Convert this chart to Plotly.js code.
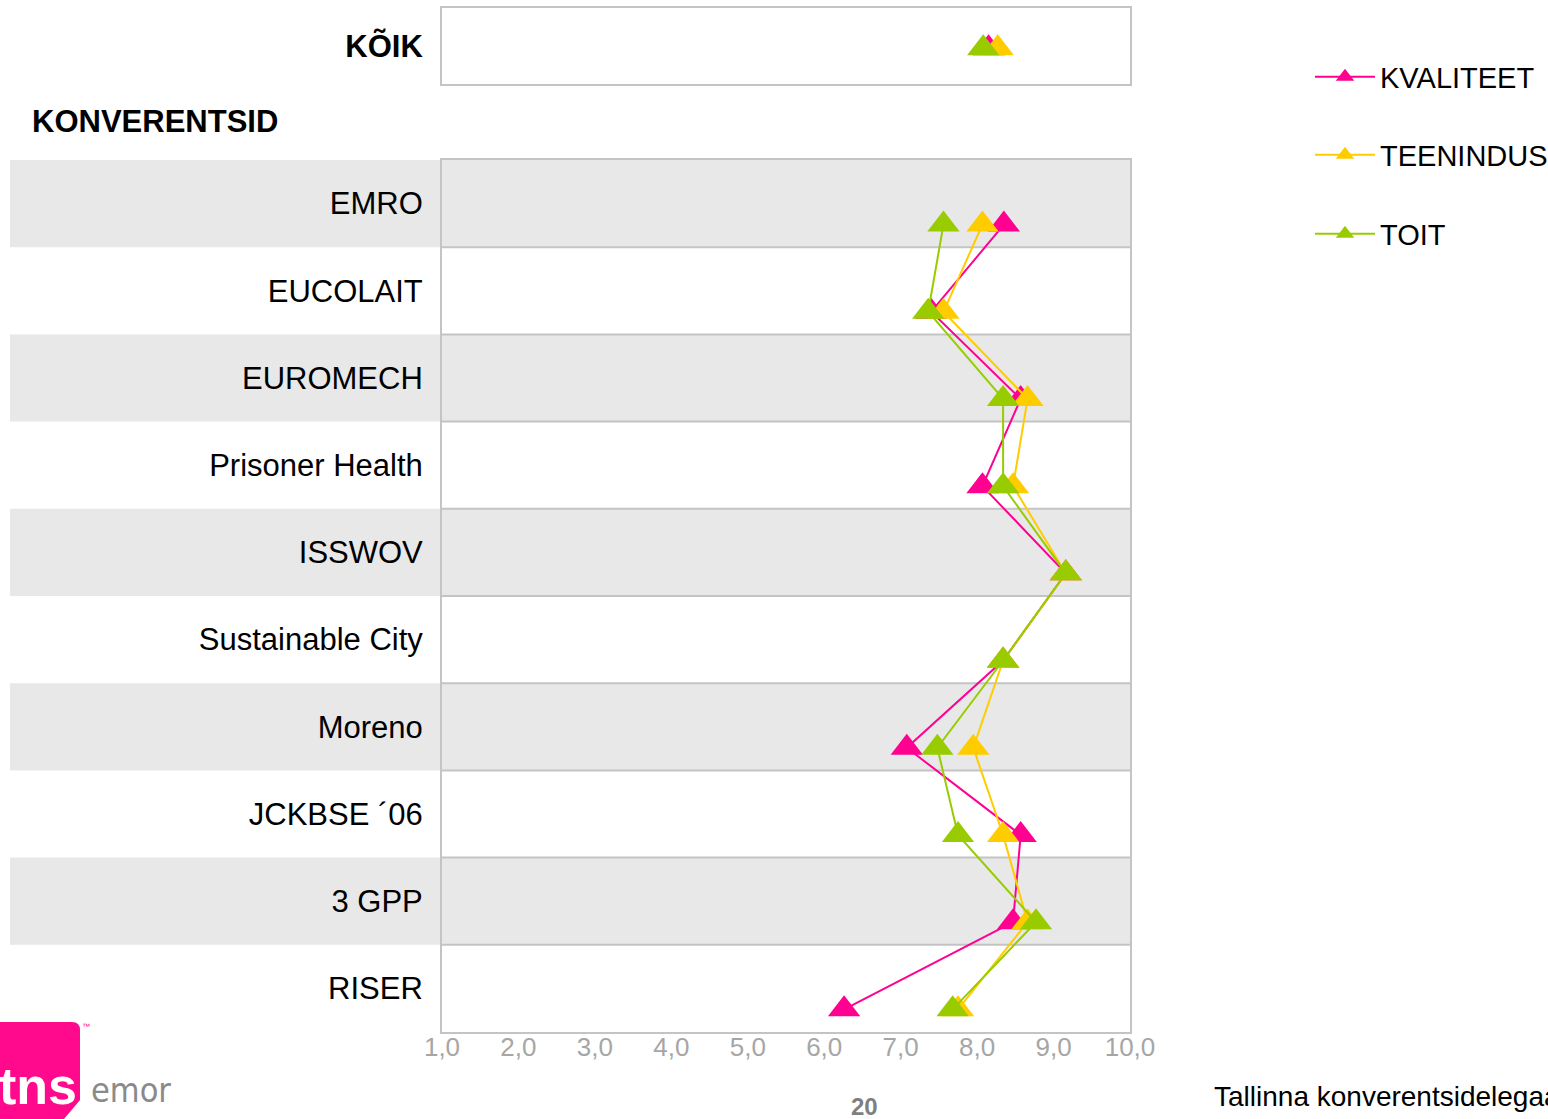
<!DOCTYPE html>
<html>
<head>
<meta charset="utf-8">
<script src="https://cdn.plot.ly/plotly-3.0.1.min.js"></script>
<style>
  html, body { margin: 0; padding: 0; background: #ffffff; overflow: hidden; width: 1548px; height: 1119px; }
  #chart { width: 1548px; height: 1119px; overflow: hidden; }
</style>
</head>
<body>
<div id="chart"></div>
<script>
// ---- data ----
const categories = ['EMRO', 'EUCOLAIT', 'EUROMECH', 'Prisoner Health', 'ISSWOV',
  'Sustainable City', 'Moreno', 'JCKBSE \u00B406', '3 GPP', 'RISER'];
const seriesNames = ['KVALITEET', 'TEENINDUS', 'TOIT'];
const kvaliteet = [8.35, 7.40, 8.57, 8.07, 9.16, 8.34, 7.08, 8.57, 8.47, 6.26];
const teenindus = [8.07, 7.56, 8.66, 8.47, 9.16, 8.34, 7.95, 8.34, 8.66, 7.75];
const toit      = [7.56, 7.36, 8.34, 8.34, 9.16, 8.34, 7.48, 7.75, 8.77, 7.68];
const totalLabel = 'K\u00D5IK';
const totalValues = [8.15, 8.27, 8.08]; // KVALITEET, TEENINDUS, TOIT
const xTickValues = [1, 2, 3, 4, 5, 6, 7, 8, 9, 10];
const groupTitle = 'KONVERENTSID';

// ---- styles ----
const colors = ['#ff0090', '#ffcc00', '#99cc00'];
const FONT = 'Liberation Sans, Arial, sans-serif';
const W = 1548, H = 1119;
const px = v => v / W, py = v => 1 - v / H;
const MAIN_SHIFT = 0.24, TOP_SHIFT = 0.03;
const seriesValues = [kvaliteet, teenindus, toit];
const idx = categories.map((c, i) => i);

const traces = [];
seriesValues.forEach((vals, s) => {
  traces.push({
    type: 'scatter', mode: 'lines+markers', name: seriesNames[s],
    x: vals, y: idx.map(i => i + MAIN_SHIFT),
    xaxis: 'x', yaxis: 'y',
    line: { color: colors[s], width: 2 },
    marker: { symbol: 'triangle-up', size: 28, color: colors[s] },
    legend: s === 0 ? 'legend' : ('legend' + (s + 1)),
    hoverinfo: 'x+name'
  });
});
seriesValues.forEach((vals, s) => {
  traces.push({
    type: 'scatter', mode: 'markers', name: seriesNames[s],
    x: [totalValues[s]], y: [TOP_SHIFT],
    xaxis: 'x2', yaxis: 'y2', showlegend: false,
    marker: { symbol: 'triangle-up', size: 28, color: colors[s] },
    hoverinfo: 'x+name'
  });
});

const shapes = [];
idx.forEach(i => {
  if (i % 2 === 0) {
    shapes.push({ type: 'rect', layer: 'below', xref: 'paper', yref: 'y',
      x0: px(10), x1: px(1130), y0: i - 0.5, y1: i + 0.5,
      fillcolor: '#e8e8e8', line: { width: 0 } });
  }
  if (i > 0) {
    shapes.push({ type: 'line', layer: 'below', xref: 'x domain', yref: 'y',
      x0: 0, x1: 1, y0: i - 0.5, y1: i - 0.5,
      line: { color: '#c4c4c4', width: 2 } });
  }
});

// logo
shapes.push({ type: 'path', xref: 'paper', yref: 'paper', layer: 'above',
  path: 'M ' + px(0) + ' ' + py(1022) + ' L ' + px(72) + ' ' + py(1022) +
        ' Q ' + px(80) + ' ' + py(1022) + ' ' + px(80) + ' ' + py(1030) +
        ' L ' + px(80) + ' ' + py(1100) + ' L ' + px(64) + ' ' + py(1119) +
        ' L ' + px(0) + ' ' + py(1119) + ' Z',
  fillcolor: '#ff0a8c', line: { width: 0 } });

const annotations = [
  { text: '<b>' + groupTitle + '</b>', xref: 'paper', yref: 'paper', x: px(30), y: py(121),
    xanchor: 'left', yanchor: 'middle', showarrow: false,
    font: { family: FONT, size: 31, color: '#000000' } },
  { text: '<b>20</b>', xref: 'paper', yref: 'paper', x: px(864), y: py(1106),
    xanchor: 'center', yanchor: 'middle', showarrow: false,
    font: { family: FONT, size: 24, color: '#7f7f7f' } },
  { text: 'Tallinna konverentsidelegaatide uuring', xref: 'paper', yref: 'paper', x: px(1212), y: py(1096),
    xanchor: 'left', yanchor: 'middle', showarrow: false,
    font: { family: FONT, size: 28, color: '#000000' } },
  { text: '<b>tns</b>', xref: 'paper', yref: 'paper', x: px(-3), y: py(1086),
    xanchor: 'left', yanchor: 'middle', showarrow: false,
    font: { family: FONT, size: 52, color: '#ffffff' } },
  { text: '\u2122', xref: 'paper', yref: 'paper', x: px(86), y: py(1026),
    xanchor: 'center', yanchor: 'middle', showarrow: false,
    font: { family: FONT, size: 8, color: '#ff0a8c' } },
  { text: 'emor', xref: 'paper', yref: 'paper', x: px(89), y: py(1090),
    xanchor: 'left', yanchor: 'middle', showarrow: false,
    font: { family: 'DejaVu Sans Condensed, Liberation Sans Narrow, ' + FONT, size: 34, color: '#8a8a8a' } }
];

const legendBase = {
  xref: 'container', yref: 'container',
  xanchor: 'left', yanchor: 'middle', bgcolor: 'rgba(0,0,0,0)', borderwidth: 0,
  font: { family: FONT, size: 29, color: '#000000' }, itemwidth: 60
};
const legendX = px(1310);

const layout = {
  width: W, height: H,
  margin: { l: 0, r: 0, t: 0, b: 0, autoexpand: false },
  paper_bgcolor: '#ffffff', plot_bgcolor: 'rgba(0,0,0,0)',
  separators: ', ',
  font: { family: FONT },
  showlegend: true,
  legend:  Object.assign({}, legendBase, { x: legendX, y: py(77) }),
  legend2: Object.assign({}, legendBase, { x: legendX, y: py(155) }),
  legend3: Object.assign({}, legendBase, { x: legendX, y: py(234) }),
  xaxis: {
    domain: [px(442), px(1130)], anchor: 'y',
    range: [1, 10], tickvals: xTickValues, tickformat: '.1f',
    showgrid: false, zeroline: false, ticks: '', ticklabelstandoff: -9,
    showline: true, mirror: true, linecolor: '#c4c4c4', linewidth: 2,
    tickfont: { family: FONT, size: 26, color: '#a6a6a6' }
  },
  yaxis: {
    domain: [py(1032), py(160)], anchor: 'x',
    range: [categories.length - 0.5, -0.5],
    tickvals: idx, ticktext: categories,
    showgrid: false, zeroline: false, ticks: '', ticklabelstandoff: 11,
    showline: true, mirror: true, linecolor: '#c4c4c4', linewidth: 2,
    tickfont: { family: FONT, size: 31, color: '#000000' }
  },
  xaxis2: {
    domain: [px(442), px(1130)], anchor: 'y2',
    range: [1, 10], showticklabels: false,
    showgrid: false, zeroline: false, ticks: '',
    showline: true, mirror: true, linecolor: '#c4c4c4', linewidth: 2
  },
  yaxis2: {
    domain: [py(84), py(8)], anchor: 'x2',
    range: [0.5, -0.5], tickvals: [0], ticktext: ['<b>' + totalLabel + '</b>'],
    showgrid: false, zeroline: false, ticks: '', ticklabelstandoff: 11,
    showline: true, mirror: true, linecolor: '#c4c4c4', linewidth: 2,
    tickfont: { family: FONT, size: 31, color: '#000000' }
  },
  shapes: shapes,
  annotations: annotations
};

Plotly.newPlot('chart', traces, layout, { displayModeBar: false, staticPlot: true });
</script>
</body>
</html>
